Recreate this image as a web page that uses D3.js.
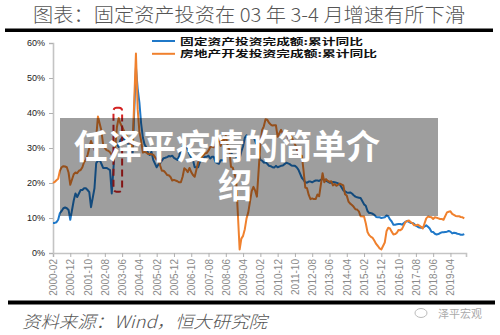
<!DOCTYPE html>
<html><head><meta charset="utf-8">
<script src="https://cdn.jsdelivr.net/npm/d3@7"></script>
<style>body{margin:0;background:#fff} svg{display:block}</style>
</head><body><svg id="c" width="500" height="335"></svg>
<script>
// ---------- data ----------
const years = [2000,2001,2002,2003,2004,2005,2006,2007,2008,2009,2010,2011,2012,2013,2014,2015,2016,2017,2018,2019];
const monthsShown = [2,3,4,5,6,7,8,9,10,11,12]; // Jan-Feb combined release

// 固定资产投资完成额:累计同比 (%), Feb..Dec per year
const faiYoY = [
  8.6, 8.6, 8.8, 9.5,11.4,12.0,12.8,13.0,12.8,12.3, 9.5,   // 2000
 15.0,17.0,16.0,17.0,18.0,18.0,18.5,18.5,18.0,17.4,13.1,   // 2001
 18.5,25.7,26.3,26.6,25.5,24.3,24.3,24.3,24.0,23.7,17.0,   // 2002
 31.6,31.1,30.3,32.3,32.8,32.5,32.1,31.4,30.8,30.6,27.7,   // 2003
 53.0,47.0,43.0,37.0,33.0,31.0,30.2,28.5,28.0,28.9,26.6,   // 2004
 24.5,25.3,25.7,26.4,27.1,27.2,27.4,27.7,27.6,27.8,27.2,   // 2005
 26.6,27.7,29.6,30.3,31.3,30.5,29.5,28.2,27.3,26.6,24.5,   // 2006
 24.5,26.0,26.5,27.0,27.5,27.5,27.8,27.0,27.5,27.5,26.0,   // 2007
 25.5,26.5,26.5,26.5,27.5,28.0,28.0,28.5,28.0,28.0,27.5,   // 2008
 27.0,29.0,30.5,32.9,33.6,32.9,33.0,33.3,33.1,32.1,30.5,   // 2009
 26.6,26.4,25.8,25.9,25.5,24.9,24.8,24.5,24.4,24.9,24.5,   // 2010
 24.9,25.0,25.4,25.8,25.6,25.4,25.0,24.9,24.9,24.5,23.8,   // 2011
 21.5,20.9,20.2,20.1,20.4,20.4,20.2,20.5,20.7,20.7,20.6,   // 2012
 21.2,20.9,20.6,20.4,20.1,20.1,20.3,20.2,20.1,19.9,19.6,   // 2013
 17.9,17.6,17.3,17.2,17.3,17.0,16.5,16.1,15.9,15.8,15.7,   // 2014
 13.9,13.5,12.0,11.4,11.4,11.2,10.9,10.3,10.2,10.2,10.0,   // 2015
 10.2,10.7,10.5, 9.6, 9.0, 8.1, 8.1, 8.2, 8.3, 8.3, 8.1,   // 2016
  8.9, 9.2, 8.9, 8.6, 8.6, 8.3, 7.8, 7.5, 7.3, 7.2, 7.2,   // 2017
  7.9, 7.5, 7.0, 6.1, 6.0, 5.5, 5.3, 5.4, 5.7, 5.9, 5.9,   // 2018
  6.1, 6.3, 6.1, 5.6, 5.8, 5.7, 5.5, 5.4, 5.2, 5.2, 5.4    // 2019
];

// 房地产开发投资完成额:累计同比 (%), Feb..Dec per year
const reiYoY = [
 20.0,20.3,20.8,21.2,23.5,24.5,24.8,24.7,24.5,23.0,19.5,   // 2000
 22.5,23.0,22.8,23.5,23.7,24.5,26.0,26.6,28.0,30.0,32.0,   // 2001
 29.4,33.0,39.0,37.0,35.0,31.0,30.0,29.4,29.2,28.8,28.0,   // 2002
 30.0,36.0,38.6,37.0,36.0,35.0,34.0,33.0,32.0,31.0,29.7,   // 2003
 57.0,41.1,34.6,32.1,28.7,28.9,28.7,28.3,28.3,28.2,28.1,   // 2004
 26.7,26.7,25.0,23.5,23.5,23.0,22.3,22.2,21.7,20.7,20.9,   // 2005
 20.5,20.2,20.2,21.8,24.2,23.8,23.1,24.3,23.1,22.3,21.8,   // 2006
 25.9,26.9,27.3,27.9,28.5,28.6,29.3,30.3,30.4,30.2,30.2,   // 2007
 32.9,30.6,32.5,31.9,33.5,30.9,29.6,24.6,24.4,22.7,20.9,   // 2008
  1.0, 4.1, 4.9, 6.8, 9.9,11.6,14.7,17.7,18.9,17.8,16.1,   // 2009
 31.1,35.1,36.2,38.2,38.1,37.2,36.7,36.4,36.5,36.5,33.2,   // 2010
 35.2,34.1,34.3,34.6,32.9,33.6,33.2,32.0,31.1,29.9,27.9,   // 2011
 27.8,23.5,18.7,18.5,16.6,15.4,15.6,15.4,15.4,16.7,16.2,   // 2012
 22.8,20.2,21.1,20.6,20.3,20.5,19.3,19.7,19.2,19.5,19.8,   // 2013
 19.3,16.8,16.4,14.7,14.1,13.7,13.2,12.5,12.4,11.9,10.5,   // 2014
 10.4, 8.5, 6.0, 5.1, 4.6, 4.3, 3.5, 2.6, 2.0, 1.3, 1.0,   // 2015
  3.0, 6.2, 7.2, 7.0, 6.1, 5.3, 5.4, 5.8, 6.6, 6.5, 6.9,   // 2016
  8.9, 9.1, 9.3, 8.8, 8.5, 7.9, 7.9, 8.1, 7.8, 7.5, 7.0,   // 2017
  9.9,10.4,10.3,10.2, 9.7,10.2,10.1, 9.9, 9.7, 9.7, 9.5,   // 2018
 11.6,11.8,11.9,11.2,10.9,10.6,10.5,10.5,10.3,10.2, 9.9    // 2019
];

const xTickLabels = ["2000-02","2000-12","2001-10","2002-08","2003-06","2004-04","2005-02","2005-12",
  "2006-10","2007-08","2008-06","2009-04","2010-02","2010-12","2011-10","2012-08","2013-06","2014-04",
  "2015-02","2015-12","2016-10","2017-08","2018-06","2019-04"];
const yTicks = [0,10,20,30,40,50,60];
const seriesNames = ["固定资产投资完成额:累计同比","房地产开发投资完成额:累计同比"];
const seriesColors = ["#1f78c8","#f0812e"];
const highlightRange = ["2003-01","2003-06"];
const highlightValues = [17.5, 41.5];

const titleText = "图表：固定资产投资在 03 年 3-4 月增速有所下滑";
const sourceText = "资料来源：Wind，恒大研究院";
const overlayLines = ["任泽平疫情的简单介","绍"];

// ---------- helpers ----------
const idx = s => { const [y,m] = s.split("-").map(Number); return (y-2000)*12 + (m-2); };
const points = [];
years.forEach(y => monthsShown.forEach(m => points.push((y-2000)*12 + (m-2))));

const svg = d3.select("#c");
const CJK = "'Noto Sans CJK SC','Noto Sans',sans-serif";

const x = d3.scaleLinear().domain([0, 239]).range([53, 466]);
const y = d3.scaleLinear().domain([0, 60]).range([253, 43]);

// title & rules
svg.append("text").attr("x", 33).attr("y", 22).attr("textLength", 432).attr("lengthAdjust","spacingAndGlyphs")
  .attr("font-family", CJK).attr("font-size", 19).attr("font-weight", 300).attr("fill", "#555").text(titleText);
svg.append("rect").attr("x", 5).attr("y", 28.5).attr("width", 488).attr("height", 3.5).attr("fill", "#000");
svg.append("rect").attr("x", 8).attr("y", 300.5).attr("width", 487).attr("height", 4).attr("fill", "#000");

// axes
const gx = svg.append("g").attr("transform", `translate(0,${y(0)})`)
  .call(d3.axisBottom(x).tickValues(xTickLabels.map(idx)).tickFormat((d,i)=>xTickLabels[i]).tickSizeOuter(0).tickSize(4));
gx.select(".domain").attr("stroke", "#c4c4c4").attr("stroke-width", 1.6);
gx.selectAll(".tick line").attr("stroke", "#b0b0b0");
gx.selectAll(".tick text").attr("transform","rotate(-90)").attr("text-anchor","end")
  .attr("x",-6).attr("y",0).attr("dy","0.35em")
  .attr("font-family","'Liberation Sans',Arial,sans-serif").attr("font-size",10).attr("fill","#8a8a8a");

const gy = svg.append("g").attr("transform", `translate(${x(0)},0)`)
  .call(d3.axisLeft(y).tickValues(yTicks).tickFormat(d=>d+"%").tickSizeOuter(0).tickSize(4));
gy.select(".domain").attr("stroke", "#c4c4c4").attr("stroke-width", 1.6);
gy.selectAll(".tick line").attr("stroke", "#b0b0b0");
gy.selectAll(".tick text").attr("x",-8)
  .attr("font-family","'Liberation Sans Narrow','Liberation Sans',Arial,sans-serif").attr("font-size",9).attr("fill","#222");

// lines
const line = d3.line().x((d,i)=>x(points[i])).y(d=>y(d)).curve(d3.curveLinear);
[faiYoY, reiYoY].forEach((s,k) => {
  svg.append("path").datum(s).attr("d", line).attr("fill","none")
    .attr("stroke", seriesColors[k]).attr("stroke-width", 2).attr("stroke-linejoin","round");
});

// highlight box
svg.append("rect")
  .attr("x", x(idx(highlightRange[0]))).attr("y", y(highlightValues[1]))
  .attr("width", x(idx(highlightRange[1])) - x(idx(highlightRange[0])))
  .attr("height", y(highlightValues[0]) - y(highlightValues[1]))
  .attr("rx", 3).attr("fill","none").attr("stroke","#d42222").attr("stroke-width",2).attr("stroke-dasharray","7,4");

// legend
seriesNames.forEach((n,k) => {
  const ly = 41 + k*12.8;
  svg.append("line").attr("x1",152).attr("x2",175).attr("y1",ly).attr("y2",ly)
    .attr("stroke", seriesColors[k]).attr("stroke-width",2);
  svg.append("text").attr("x",180).attr("y",ly+3.5).attr("textLength", k ? 197 : 183).attr("lengthAdjust","spacingAndGlyphs")
    .attr("font-family",CJK).attr("font-weight","bold").attr("font-size",9).attr("fill","#111").text(n);
});

// source & watermark
svg.append("text").attr("x",22).attr("y",328).attr("textLength",245).attr("lengthAdjust","spacingAndGlyphs")
  .attr("font-family",CJK).attr("font-style","italic").attr("font-size",17).attr("font-weight",300)
  .attr("fill","#555").text(sourceText);
svg.append("ellipse").attr("cx",421).attr("cy",313).attr("rx",6).attr("ry",4.5).attr("fill","none").attr("stroke","#bbb").attr("stroke-width",1);
svg.append("text").attr("x",438).attr("y",318).attr("font-family",CJK).attr("font-size",11).attr("fill","#aaa").text("泽平宏观");

// overlay (one wrapped text block)
svg.append("rect").attr("x",60).attr("y",118).attr("width",378).attr("height",98).attr("fill","rgba(0,0,0,0.38)");
const ot = svg.append("text").attr("font-family",CJK).attr("font-weight","bold")
  .attr("font-size",34).attr("fill","#fff");
ot.append("tspan").attr("x",74).attr("y",159).text(overlayLines[0]);
ot.append("tspan").attr("x",218).attr("y",198).text(overlayLines[1]);
</script></body></html>
